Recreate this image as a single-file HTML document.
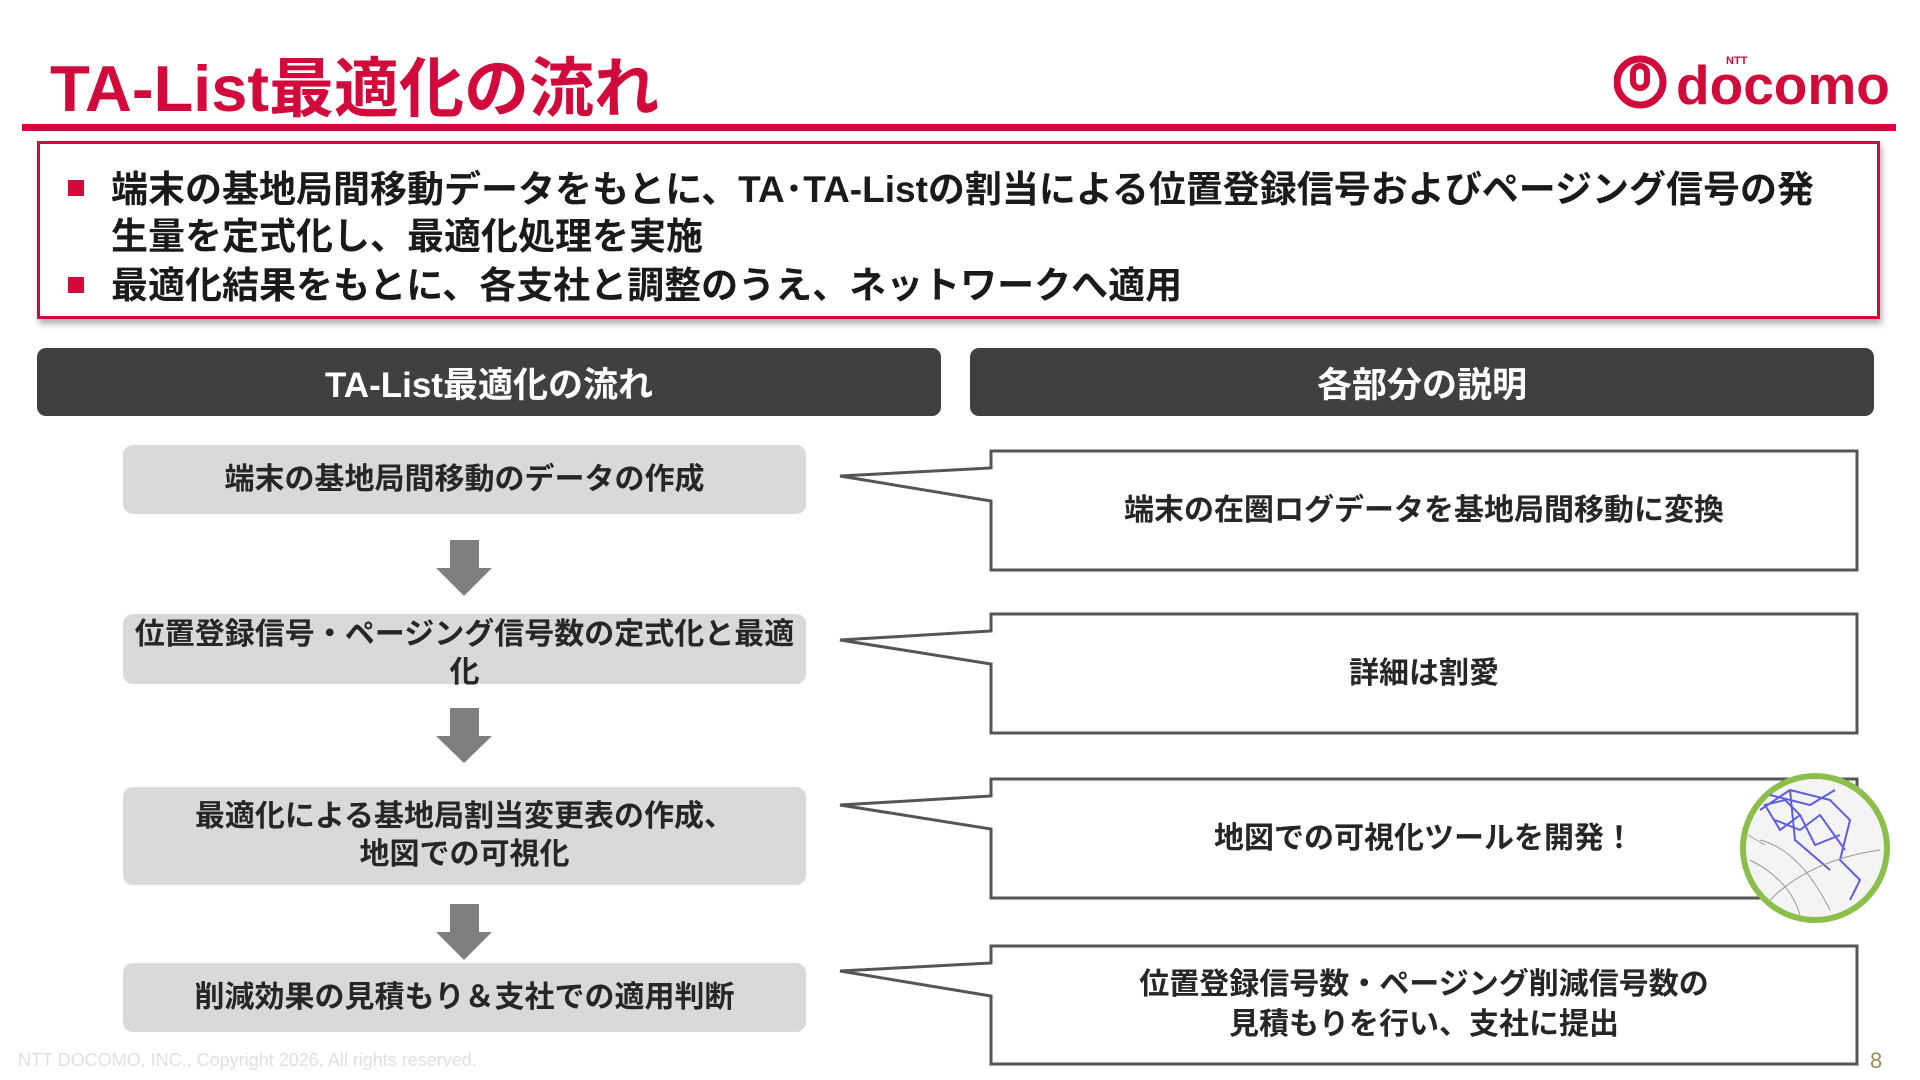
<!DOCTYPE html>
<html><head><meta charset="utf-8">
<style>
*{margin:0;padding:0;box-sizing:border-box}
body{width:1920px;height:1080px;background:#fff;position:relative;overflow:hidden;font-family:"Liberation Sans","Noto Sans CJK JP",sans-serif;font-weight:bold;color:#262626}
.a{position:absolute}
.title{left:50px;top:36px;font-size:65px;color:#d20a3c;letter-spacing:0px;white-space:nowrap}
.hl{left:22px;top:124px;width:1874px;height:7px;background:#d20a3c}
.rbox{left:37px;top:141px;width:1843px;height:178px;border:3px solid #d20a3c;box-shadow:2px 5px 6px rgba(0,0,0,.3)}
.bl{left:111px;font-size:37px;white-space:nowrap;color:#1a1a1a}
.sq{left:68px;width:16px;height:16px;background:#d20a3c}
.hd{top:348px;height:68px;width:904px;background:#404040;border-radius:9px;color:#fff;font-size:35px;display:flex;align-items:center;justify-content:center}
.gb{left:123px;width:683px;background:#d9d9d9;border-radius:10px;font-size:30px;display:flex;align-items:center;justify-content:center;text-align:center;line-height:38px;color:#262626}
.rt{left:991px;width:866px;display:flex;align-items:center;justify-content:center;text-align:center;font-size:30px;line-height:40px;color:#262626}
</style></head><body>
<div class="a title">TA-List最適化の流れ</div>
<div class="a" style="left:1614px;top:52px;width:290px;height:60px">
<svg width="290" height="60"><circle cx="26" cy="30" r="23" fill="none" stroke="#d20a3c" stroke-width="7"/><rect x="19" y="14" width="14" height="22" rx="7" fill="none" stroke="#d20a3c" stroke-width="6"/>
<text x="62" y="52" font-family="Liberation Sans" font-weight="bold" font-size="55" fill="#d20a3c">docomo</text>
<text x="112" y="12" font-family="Liberation Sans" font-weight="bold" font-size="11" fill="#d20a3c">NTT</text></svg></div>
<div class="a hl"></div>
<div class="a rbox"></div>
<div class="a sq" style="top:180px"></div>
<div class="a bl" style="top:159px">端末の基地局間移動データをもとに、TA･TA-Listの割当による位置登録信号およびページング信号の発</div>
<div class="a bl" style="top:206px">生量を定式化し、最適化処理を実施</div>
<div class="a sq" style="top:277px"></div>
<div class="a bl" style="top:255px">最適化結果をもとに、各支社と調整のうえ、ネットワークへ適用</div>
<div class="a hd" style="left:37px">TA-List最適化の流れ</div>
<div class="a hd" style="left:970px">各部分の説明</div>
<div class="a gb" style="top:445px;height:69px">端末の基地局間移動のデータの作成</div>
<div class="a gb" style="top:614px;height:70px;align-items:flex-start;padding-top:2px">位置登録信号・ページング信号数の定式化と最適<br>化</div>
<div class="a gb" style="top:787px;height:98px">最適化による基地局割当変更表の作成、<br>地図での可視化</div>
<div class="a gb" style="top:963px;height:69px">削減効果の見積もり＆支社での適用判断</div>
<svg class="a" style="left:0;top:0" width="1920" height="1080">
<g fill="#7f7f7f">
<polygon points="450,540 479,540 479,568 492,568 464,596 436,568 450,568"/>
<polygon points="450,708 479,708 479,736 492,736 464,763 436,736 450,736"/>
<polygon points="450,904 479,904 479,932 492,932 464,960 436,932 450,932"/>
</g>
<g fill="#fff" stroke="#555" stroke-width="3">
<path d="M991,451 L1857,451 L1857,570 L991,570 L991,501 L840,476 L991,468 Z"/>
<path d="M991,614 L1857,614 L1857,733 L991,733 L991,664 L840,640 L991,631 Z"/>
<path d="M991,779 L1857,779 L1857,898 L991,898 L991,829 L840,805 L991,796 Z"/>
<path d="M991,946 L1857,946 L1857,1064 L991,1064 L991,996 L840,971 L991,963 Z"/>
</g>
<circle cx="1815" cy="848" r="72" fill="#f4f4f4" stroke="#8cbf4a" stroke-width="6"/>
<g stroke="#3a3ad8" stroke-width="2" fill="none" opacity=".8">
<path d="M1760,810 L1790,790 L1830,800 L1850,820 L1840,860 L1860,880 L1850,900 M1775,820 L1800,830 L1820,815 L1845,850 M1790,790 L1795,840 L1830,870 M1765,805 L1785,800 L1800,815 L1780,830 Z M1770,795 L1810,805 L1835,790 M1800,815 L1815,845 L1840,835"/>
</g>
<g stroke="#999" stroke-width="1" fill="none"><path d="M1750,860 Q1790,880 1800,915 M1770,900 Q1810,860 1880,850 M1760,840 Q1800,850 1830,910 M1748,835 L1765,845"/></g>
</svg>
<div class="a rt" style="top:451px;height:119px">端末の在圏ログデータを基地局間移動に変換</div>
<div class="a rt" style="top:614px;height:119px">詳細は割愛</div>
<div class="a rt" style="top:779px;height:119px">地図での可視化ツールを開発！</div>
<div class="a rt" style="top:946px;height:118px">位置登録信号数・ページング削減信号数の<br>見積もりを行い、支社に提出</div>
<div class="a" style="left:18px;top:1050px;font-size:18px;font-weight:normal;color:#e0e0e0;white-space:nowrap">NTT DOCOMO, INC., Copyright 2026, All rights reserved.</div>
<div class="a" style="left:1870px;top:1048px;font-size:22px;font-weight:normal;color:#9a8a5a">8</div>
</body></html>
